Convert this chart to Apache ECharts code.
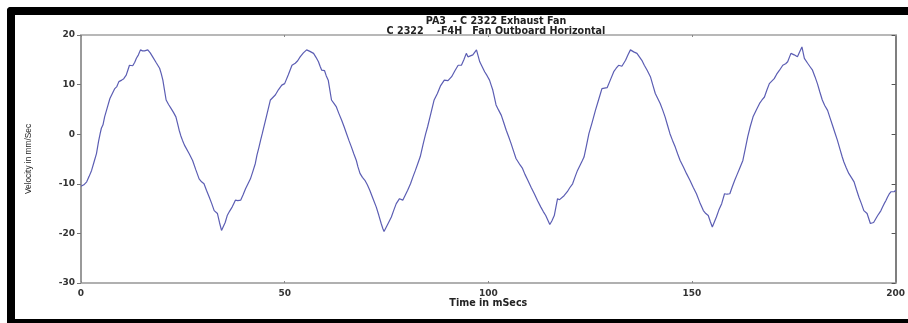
<!DOCTYPE html>
<html>
<head>
<meta charset="utf-8">
<script src="https://cdn.jsdelivr.net/npm/echarts@6/dist/echarts.min.js"></script>
<style>
html,body{margin:0;padding:0;background:#fff;}
#chart{width:908px;height:323px;}
</style>
</head>
<body>
<div id="chart"></div>
<script>
// Time (ms) of each sample
var timeMs = [
0,0.7,1.4,2.0,2.6,3.2,3.8,4.3,4.7,5.0,5.4,5.8,6.4,7.1,7.7,8.3,8.8,9.3,9.7,10.0,10.5,11.1,11.5,11.9,12.3,12.7,13.2,13.6,14.1,14.6,15.1,15.6,16.0,16.4,17.0,17.6,18.4,19.3,19.7,20.1,20.5,20.9,21.5,22.1,22.7,23.3,23.7,24.1,24.5,24.9,25.4,25.8,26.6,27.4,28.2,29.0,29.6,30.2,30.8,31.5,32.1,32.7,33.1,33.5,34.0,34.5,34.9,35.4,35.9,36.5,37.1,37.5,37.9,38.5,39.2,39.8,40.4,41.0,41.6,42.2,42.8,43.2,43.7,44.1,44.5,
45.5,46.5,47.1,47.7,48.5,49.3,50.0,50.9,51.8,52.6,53.2,53.8,54.6,55.4,56.2,57.1,57.7,58.3,58.7,59.1,59.8,60.2,60.7,61.1,61.5,62.1,62.7,63.3,64.0,64.6,65.2,65.8,66.4,67.0,67.6,68.0,68.5,69.1,69.7,70.3,70.9,71.7,72.5,73.1,73.7,74.1,74.4,74.9,75.4,76.2,76.8,77.4,78.2,78.6,79.0,79.6,80.2,80.9,81.5,82.1,82.7,83.3,84.0,84.6,85.1,
85.9,86.7,87.5,88.3,89.2,90.1,91.0,91.8,92.6,93.4,94.0,94.6,95.0,95.4,96.2,97.1,97.5,97.9,98.5,99.1,99.7,100.3,100.7,101.1,101.5,101.9,102.5,103.2,103.8,104.4,105.0,105.6,106.2,106.8,107.2,107.8,108.4,109.0,109.7,110.5,111.3,112.1,112.9,113.5,114.1,114.6,115.1,115.6,116.2,116.6,117.0,117.5,117.9,118.6,119.4,120.0,120.7,121.3,121.9,122.5,123.1,123.5,124.1,124.7,
125.5,126.3,127.1,127.9,128.5,129.2,130.0,130.8,131.4,132.0,132.8,133.7,134.3,134.9,135.7,136.5,137.1,137.7,138.3,139.0,139.8,140.4,141.0,141.6,142.2,142.8,143.4,144.0,144.6,145.2,145.9,146.5,147.1,147.9,148.7,149.5,150.3,151.1,151.9,152.8,153.4,154.0,154.5,155.0,155.5,156.0,156.6,157.3,158.0,158.6,159.3,159.9,160.5,161.1,161.7,162.5,163.1,163.7,
164.3,165.0,165.8,166.6,167.2,167.8,168.4,169.0,169.6,170.2,170.8,171.5,172.3,173.0,173.5,174.3,175.1,175.9,176.4,177.0,177.6,178.4,179.0,179.6,180.2,180.8,181.4,182.0,182.6,183.3,183.9,184.5,185.1,185.7,186.3,186.9,187.3,187.9,188.5,189.2,189.8,190.4,191.0,191.6,192.2,192.6,193.0,193.4,193.8,194.2,194.6,195.1,195.6,196.0,196.4,196.8,197.2,197.6,198.0,198.4,198.9,199.3,199.7,200
];
// Velocity (mm/Sec) at each sample
var velocity = [
-10.5,-10.2,-9.6,-8.5,-7.3,-5.6,-3.9,-1.5,0.1,1.2,1.9,3.5,5.2,7.2,8.2,9.2,9.6,10.6,10.4,10.9,11.2,11.9,12.9,13.9,14.0,13.8,14.5,15.3,16.0,17.0,16.8,16.8,17.0,17.0,16.4,15.6,14.5,13.3,12.2,10.9,8.9,6.9,6.0,5.2,4.4,3.5,2.2,0.8,-0.3,-1.2,-2.2,-2.6,-4.0,-5.3,-7.2,-9.0,-9.6,-10.0,-11.3,-12.7,-14.0,-15.4,-15.8,-16.0,-17.8,-19.4,-19.4,-17.8,-16.4,-15.5,-14.7,-14.0,-13.3,-13.4,-13.3,-12.2,-11.0,-10.0,-9.0,-7.5,-5.9,-4.2,-2.6,-1.2,0.1,
3.5,6.9,7.4,7.9,9.0,9.9,10.2,12.0,13.9,14.3,14.8,15.6,16.4,17.0,16.7,16.3,15.5,14.6,13.7,12.9,12.8,11.8,10.9,8.9,6.9,6.2,5.5,4.2,2.8,1.5,0.1,-1.3,-2.6,-4.0,-5.3,-6.6,-7.9,-8.7,-9.3,-10.2,-11.3,-13.0,-14.7,-16.3,-18.0,-19.0,-19.6,-18.8,-18.0,-16.7,-15.3,-14.0,-13.0,-13.2,-13.3,-12.3,-11.3,-10.0,-8.6,-7.3,-5.9,-4.5,-2.0,0.0,1.5,
4.2,6.9,8.2,9.8,10.9,10.8,11.6,12.8,13.9,13.9,15.0,16.3,15.6,15.3,16.0,17.0,15.8,14.6,13.6,12.6,11.8,10.9,9.9,8.9,7.4,5.9,4.9,3.8,2.3,0.8,-0.5,-1.9,-3.4,-4.9,-5.3,-6.2,-6.9,-8.1,-9.3,-10.7,-12.0,-13.4,-14.7,-15.6,-16.4,-17.3,-18.2,-17.5,-16.4,-14.7,-13.0,-13.2,-13.3,-12.4,-11.6,-10.8,-10.0,-8.6,-7.3,-6.3,-5.3,-4.6,-2.3,0.1,
2.4,4.8,7.0,9.2,9.3,9.4,11.0,12.6,13.3,13.9,13.7,14.9,16.0,17.0,16.6,16.3,15.6,14.9,13.9,12.9,11.6,9.9,8.2,7.2,6.2,4.9,3.5,1.8,0.1,-1.2,-2.6,-4.0,-5.3,-6.6,-8.0,-9.3,-10.7,-12.0,-13.7,-15.4,-16.0,-16.4,-17.6,-18.7,-17.7,-16.7,-15.3,-14.0,-12.0,-12.1,-12.0,-10.6,-9.3,-8.1,-6.9,-5.3,-2.9,-0.5,
1.5,3.5,4.9,6.2,6.9,7.5,8.9,10.2,10.7,11.2,12.1,12.9,13.9,14.2,14.6,16.3,16.0,15.6,16.5,17.6,15.3,14.3,13.6,12.9,11.6,10.2,8.5,6.9,5.8,4.8,3.3,1.8,0.3,-1.2,-2.9,-4.6,-5.6,-6.8,-7.9,-8.8,-9.6,-11.2,-12.7,-14.0,-15.4,-15.7,-16.0,-17.0,-18.0,-17.9,-17.8,-17.1,-16.4,-15.9,-15.4,-14.7,-14.0,-13.4,-12.7,-12.1,-11.6,-11.7,-11.6,-11.3
];
var titleLines = ["PA3  - C 2322 Exhaust Fan", "C 2322    -F4H   Fan Outboard Horizontal"];
var xAxisName = "Time in mSecs";
var yAxisName = "Velocity in mm/Sec";

var pts = timeMs.map(function(t, i){ return [t, velocity[i]]; });
var lblFont = {fontFamily: 'DejaVu Sans', fontSize: 9, fontWeight: 'bold', color: '#333'};

var chart = echarts.init(document.getElementById('chart'), null, {renderer: 'canvas'});
chart.setOption({
  animation: false,
  backgroundColor: '#ffffff',
  title: {
    text: titleLines.join('\n'),
    left: 491, top: 12, textAlign: 'center',
    textStyle: {fontFamily: 'DejaVu Sans', fontSize: 9.6, fontWeight: 'bold', color: '#222', lineHeight: 9.5}
  },
  grid: {left: 81, right: 7, top: 35, bottom: 40},
  xAxis: [{
    type: 'value', min: 0, max: 200, interval: 50, position: 'bottom',
    name: xAxisName, nameLocation: 'middle', nameGap: 15, nameMoveOverlap: false,
    nameTextStyle: {fontFamily: 'DejaVu Sans', fontSize: 9.6, fontWeight: 'bold', color: '#222'},
    axisLine: {show: true, onZero: false, lineStyle: {color: '#b0b0b0', width: 2}},
    axisTick: {show: true, inside: true, length: 2, lineStyle: {color: '#888'}},
    axisLabel: Object.assign({margin: 6, showMinLabel: true, showMaxLabel: true}, lblFont),
    splitLine: {show: false}
  }, {
    type: 'value', min: 0, max: 200, interval: 50, position: 'top',
    axisLine: {show: true, onZero: false, lineStyle: {color: '#b8b8b8', width: 2}},
    axisTick: {show: true, inside: true, length: 2, lineStyle: {color: '#888'}},
    axisLabel: {show: false}, splitLine: {show: false}
  }],
  yAxis: [{
    type: 'value', min: -30, max: 20, interval: 10, position: 'left',
    name: yAxisName, nameLocation: 'middle', nameGap: 48, nameRotate: 90, nameMoveOverlap: false,
    nameTextStyle: {fontFamily: 'Liberation Sans Narrow, Liberation Sans', fontSize: 8.3, color: '#222'},
    axisLine: {show: true, onZero: false, lineStyle: {color: '#9a9a9a', width: 2}},
    axisTick: {show: true, inside: false, length: 4, lineStyle: {color: '#777'}},
    axisLabel: Object.assign({margin: 6}, lblFont),
    splitLine: {show: false}
  }, {
    type: 'value', min: -30, max: 20, interval: 10, position: 'right',
    axisLine: {show: true, onZero: false, lineStyle: {color: '#555', width: 1.5}},
    axisTick: {show: true, inside: true, length: 4, lineStyle: {color: '#555'}},
    axisLabel: {show: false}, splitLine: {show: false}
  }],
  series: [{
    type: 'line', xAxisIndex: 0, yAxisIndex: 0,
    data: pts, showSymbol: false, smooth: false,
    lineStyle: {color: '#5b5db3', width: 1.2},
    silent: true
  }],
  graphic: [
    {type: 'rect', shape: {x: 7, y: 7, width: 901, height: 8, r: [4, 0, 0, 0]}, style: {fill: '#000'}},
    {type: 'rect', shape: {x: 7, y: 7, width: 8, height: 316, r: [4, 0, 0, 0]}, style: {fill: '#000'}},
    {type: 'rect', shape: {x: 7, y: 319, width: 901, height: 4}, style: {fill: '#000'}}
  ]
});
</script>
</body>
</html>
